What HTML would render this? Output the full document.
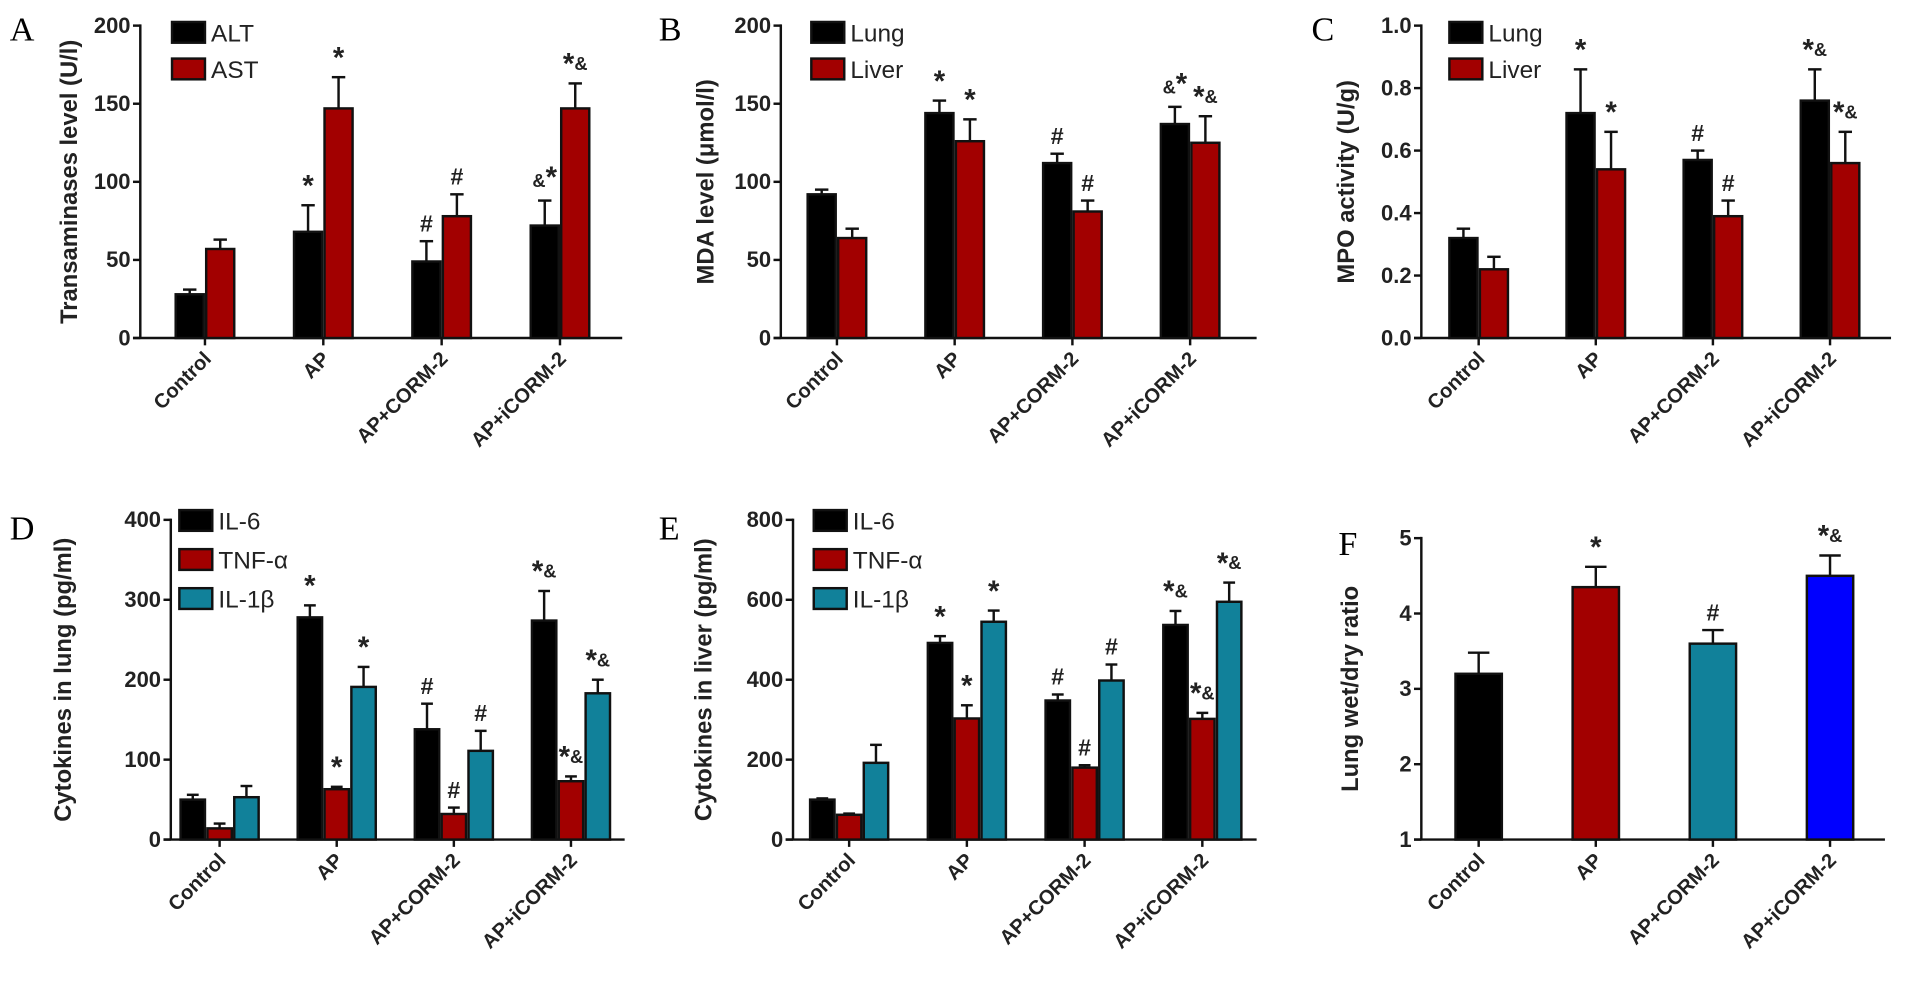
<!DOCTYPE html>
<html><head><meta charset="utf-8"><style>
html,body{margin:0;padding:0;background:#fff;width:1913px;height:986px;overflow:hidden}
svg{display:block}
text{font-family:"Liberation Sans",Arial,sans-serif}
.lab{font-family:"Liberation Serif",serif;font-size:28px}
</style></head><body>
<svg id="fig" width="1913" height="986" viewBox="0 0 1568 808" preserveAspectRatio="none" xmlns="http://www.w3.org/2000/svg"></svg>
<script>
const groups = ["Control","AP","AP+CORM-2","AP+iCORM-2"];
// Panel A
const aTicks = [0,50,100,150,200];
const aALT = [28,68,49,72];
const aALTErr = [3,17,13,16];
const aALTAnn = ["","*","#","&*"];
const aAST = [57,147,78,147];
const aASTErr = [6,20,14,16];
const aASTAnn = ["","*","#","*&"];
// Panel B
const bTicks = [0,50,100,150,200];
const bLung = [92,144,112,137];
const bLungErr = [3,8,6,11];
const bLungAnn = ["","*","#","&*"];
const bLiver = [64,126,81,125];
const bLiverErr = [6,14,7,17];
const bLiverAnn = ["","*","#","*&"];
// Panel C
const cTicks = [0,0.2,0.4,0.6,0.8,1.0];
const cTickLabels = ["0.0","0.2","0.4","0.6","0.8","1.0"];
const cLung = [0.32,0.72,0.57,0.76];
const cLungErr = [0.03,0.14,0.03,0.1];
const cLungAnn = ["","*","#","*&"];
const cLiver = [0.22,0.54,0.39,0.56];
const cLiverErr = [0.04,0.12,0.05,0.1];
const cLiverAnn = ["","*","#","*&"];
// Panel D
const dTicks = [0,100,200,300,400];
const dIL6 = [50,278,138,274];
const dIL6Err = [6,15,32,37];
const dIL6Ann = ["","*","#","*&"];
const dTNF = [14,63,32,73];
const dTNFErr = [6,3,8,6];
const dTNFAnn = ["","*","#","*&"];
const dIL1 = [53,191,111,183];
const dIL1Err = [14,25,25,17];
const dIL1Ann = ["","*","#","*&"];
// Panel E
const eTicks = [0,200,400,600,800];
const eIL6 = [100,492,348,537];
const eIL6Err = [3,17,15,35];
const eIL6Ann = ["","*","#","*&"];
const eTNF = [62,303,180,302];
const eTNFErr = [3,33,6,15];
const eTNFAnn = ["","*","#","*&"];
const eIL1 = [192,545,398,595];
const eIL1Err = [45,28,40,48];
const eIL1Ann = ["","*","#","*&"];
// Panel F
const fTicks = [1,2,3,4,5];
const fRatio = [3.2,4.35,3.6,4.5];
const fRatioErr = [0.28,0.27,0.18,0.27];
const fRatioAnn = ["","*","#","*&"];

const NS="http://www.w3.org/2000/svg";
const svg=document.getElementById('fig');
function mk(tag,attrs,parent,txt){const e=document.createElementNS(NS,tag);for(const k in attrs)e.setAttribute(k,attrs[k]);if(txt!==undefined)e.textContent=txt;(parent||svg).appendChild(e);return e;}
const RED="#a20000",TEAL="#11819a",BLUE="#0000ff";

function panel(p){
  const g=mk('g',{});
  
  
  const t=mk('text',{x:p.labX,y:p.labY,class:'lab'},g,p.id.toUpperCase());
  
  
  const min=p.ticks[0],max=p.ticks[p.ticks.length-1];
  const yS=v=>p.y0-(v-min)/(max-min)*(p.y0-p.yTop);
  const xs=i=>p.x0+p.g0+i*p.gStep;
  const ya=mk('line',{x1:p.x0,y1:p.yTop-1,x2:p.x0,y2:p.y0,stroke:'#111','stroke-width':2},g);
  
  const xa=mk('line',{x1:p.x0-6,y1:p.y0,x2:p.xEnd,y2:p.y0,stroke:'#111','stroke-width':2},g);
  
  p.ticks.forEach((v,i)=>{
    mk('line',{x1:p.x0-6,y1:yS(v),x2:p.x0,y2:yS(v),stroke:'#111','stroke-width':2},g);
    const tl=mk('text',{x:p.x0-8,y:yS(v)+6,'text-anchor':'end','font-size':18,'font-weight':'bold',fill:'#222'},g,p.tickLabels?p.tickLabels[i]:String(v));
    
  });
  const yt=mk('text',{x:0,y:0,transform:`translate(${p.ytX},${(p.yTop+p.y0)/2}) rotate(-90)`,'text-anchor':'middle','font-size':19.5,'font-weight':'bold',fill:'#222'},g,p.ytitle);
  
  groups.forEach((n,i)=>{
    const cx=xs(i);
    mk('line',{x1:cx,y1:p.y0,x2:cx,y2:p.y0+6,stroke:'#111','stroke-width':2},g);
    const xl=mk('text',{x:0,y:0,transform:`translate(${cx+6},${p.y0+18}) rotate(-45)`,'text-anchor':'end','font-size':16.5,'font-weight':'bold',fill:'#222'},g,n);
    
  });
  const ns=p.series.length;
  p.series.forEach((s,si)=>{
    s.vals.forEach((v,i)=>{
      const cx = p.single ? xs(i) : xs(i)-ns*p.bw/2+si*p.bw+p.bw/2;
      const col = p.single ? s.colors[i] : s.color;
      const top=yS(v), et=yS(v+s.err[i]);
      const el=mk('line',{x1:cx,y1:top,x2:cx,y2:et,stroke:'#111','stroke-width':2},g);
      
      mk('line',{x1:cx-p.bw*0.22,y1:et,x2:cx+p.bw*0.22,y2:et,stroke:'#111','stroke-width':2},g);
      const r=mk('rect',{x:cx-p.bw/2+1,y:top,width:p.bw-2,height:p.y0-top,fill:col,stroke:'#111','stroke-width':2},g);
      
      const a=s.ann[i];
      if(a){
        const at=mk('text',{x:cx,y:et-8,'text-anchor':'middle','font-weight':'bold',fill:'#222','font-size':a==='#'?19:24},g);
        
        for(const ch of a){mk('tspan',{'font-size':ch==='&'?15:(ch==='#'?19:24),dy:ch==='&'?-3:0},at,ch);}
      }
    });
  });
  if(p.legend){
    p.series.forEach((s,si)=>{
      const ly=p.legY+si*p.legStep;
      const lr=mk('rect',{x:p.legX,y:ly,width:27,height:17,fill:s.color,stroke:'#111','stroke-width':2},g);
      
      const lt=mk('text',{x:p.legX+32,y:ly+16,'font-size':20,fill:'#222'},g,s.name);
      
    });
  }
}
panel({id:'a',labX:8,labY:33,x0:115,xEnd:510,y0:277,yTop:21,g0:53,gStep:97,bw:25,ticks:aTicks,ytX:63,ytitle:'Transaminases level (U/l)',legend:true,legX:141,legY:18,legStep:30,
 series:[{key:'alt',name:'ALT',color:'#000',vals:aALT,err:aALTErr,ann:aALTAnn},{key:'ast',name:'AST',color:RED,vals:aAST,err:aASTErr,ann:aASTAnn}]});
panel({id:'b',labX:540,labY:33,x0:640,xEnd:1030,y0:277,yTop:21,g0:46,gStep:96.5,bw:25,ticks:bTicks,ytX:585,ytitle:'MDA level (μmol/l)',legend:true,legX:665,legY:18,legStep:30,
 series:[{key:'lung',name:'Lung',color:'#000',vals:bLung,err:bLungErr,ann:bLungAnn},{key:'liver',name:'Liver',color:RED,vals:bLiver,err:bLiverErr,ann:bLiverAnn}]});
panel({id:'c',labX:1075,labY:33,x0:1165,xEnd:1550,y0:277,yTop:21,g0:47,gStep:96,bw:25,ticks:cTicks,tickLabels:cTickLabels,ytX:1110,ytitle:'MPO activity (U/g)',legend:true,legX:1188,legY:18,legStep:30,
 series:[{key:'lung',name:'Lung',color:'#000',vals:cLung,err:cLungErr,ann:cLungAnn},{key:'liver',name:'Liver',color:RED,vals:cLiver,err:cLiverErr,ann:cLiverAnn}]});
panel({id:'d',labX:8,labY:442,x0:140,xEnd:512,y0:688,yTop:426,g0:40,gStep:96,bw:22,ticks:dTicks,ytX:58,ytitle:'Cytokines in lung (pg/ml)',legend:true,legX:147,legY:418,legStep:32,
 series:[{key:'il6',name:'IL-6',color:'#000',vals:dIL6,err:dIL6Err,ann:dIL6Ann},{key:'tnf',name:'TNF-α',color:RED,vals:dTNF,err:dTNFErr,ann:dTNFAnn},{key:'il1b',name:'IL-1β',color:TEAL,vals:dIL1,err:dIL1Err,ann:dIL1Ann}]});
panel({id:'e',labX:540,labY:442,x0:650,xEnd:1030,y0:688,yTop:426,g0:46,gStep:96.5,bw:22,ticks:eTicks,ytX:583,ytitle:'Cytokines in liver (pg/ml)',legend:true,legX:667,legY:418,legStep:32,
 series:[{key:'il6',name:'IL-6',color:'#000',vals:eIL6,err:eIL6Err,ann:eIL6Ann},{key:'tnf',name:'TNF-α',color:RED,vals:eTNF,err:eTNFErr,ann:eTNFAnn},{key:'il1b',name:'IL-1β',color:TEAL,vals:eIL1,err:eIL1Err,ann:eIL1Ann}]});
panel({id:'f',labX:1097,labY:455,x0:1165,xEnd:1545,y0:688,yTop:441,g0:47,gStep:96,bw:40,ticks:fTicks,ytX:1113,ytitle:'Lung wet/dry ratio',legend:false,single:true,
 series:[{key:'ratio',name:'ratio',colors:['#000',RED,TEAL,BLUE],vals:fRatio,err:fRatioErr,ann:fRatioAnn}]});
</script>
</body></html>
